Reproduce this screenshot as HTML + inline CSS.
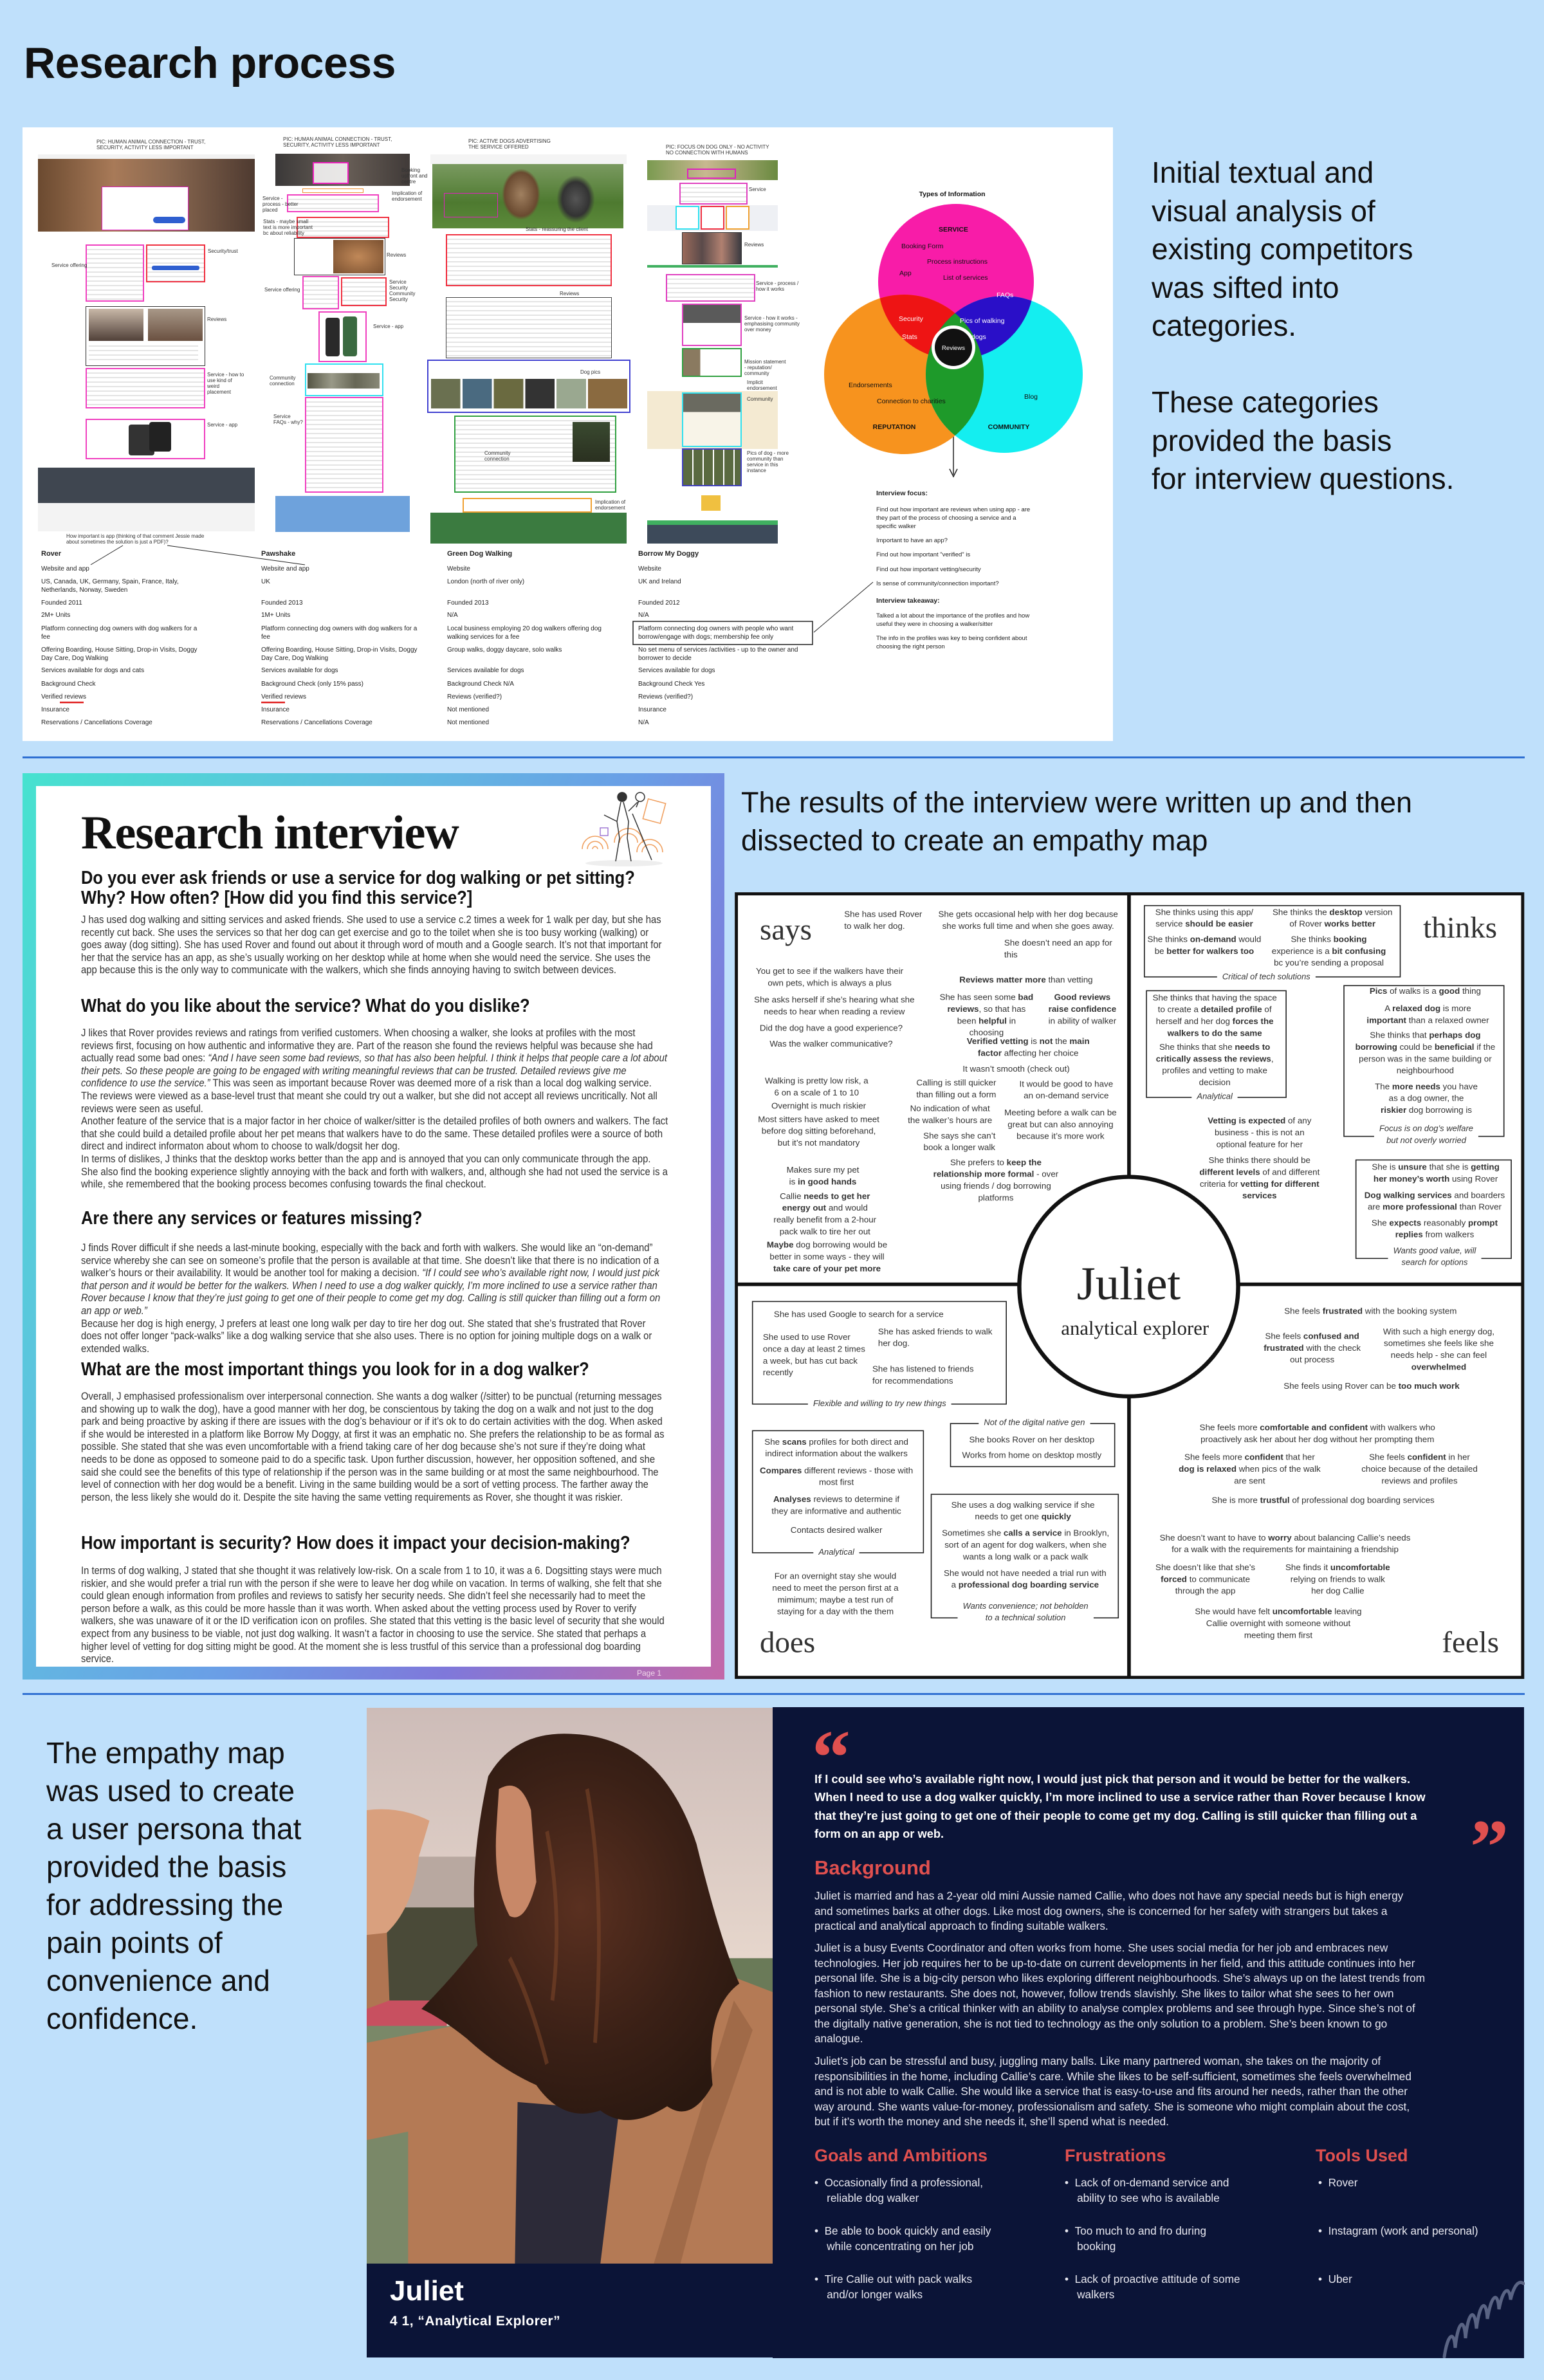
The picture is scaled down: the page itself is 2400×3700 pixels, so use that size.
<!DOCTYPE html>
<html><head><meta charset="utf-8">
<style>
*{margin:0;padding:0;box-sizing:border-box}
body{width:2400px;height:3700px;background:#bfe0fb;position:relative;overflow:hidden;font-family:"Liberation Sans",sans-serif;color:#111}
.a{position:absolute}
.sm{position:absolute;font-size:8px;line-height:9px;color:#333;white-space:nowrap}
.tb{position:absolute;font-size:10px;line-height:13px;color:#222;white-space:nowrap}
.tx{background:repeating-linear-gradient(#fff 0 5px,#e4e4e4 5px 7px)}
.big{position:absolute;font-size:46px;line-height:59.5px;color:#111;white-space:nowrap}
/* interview doc */
.doc h2{position:absolute;left:126px;width:1040px;font-family:"Liberation Sans",sans-serif;font-weight:bold;font-size:29px;line-height:31px;color:#111;transform:scaleX(0.88);transform-origin:0 0;white-space:nowrap}
.doc p{position:absolute;left:126px;width:1050px;font-family:"Liberation Sans",sans-serif;font-size:17px;line-height:19.6px;color:#333;overflow:hidden;transform:scaleX(0.87);transform-origin:0 0}
/* empathy */
.em{position:absolute;left:1130px;top:1380px;width:1568px;height:1568px;transform:scale(0.81,0.7972);transform-origin:0 0;font-family:"Liberation Sans",sans-serif;color:#333}
.em .t{position:absolute;white-space:nowrap;transform:translateX(-50%);text-align:center;font-size:16.5px;line-height:23px}
.em .l{position:absolute;white-space:nowrap;font-size:16.5px;line-height:23px}
.em .b{position:absolute;border:2.5px solid #222}
.em .c{position:absolute;white-space:nowrap;transform:translateX(-50%);text-align:center;font-size:16px;line-height:23px;font-style:italic;background:#fff;padding:0 10px}
.em .q{position:absolute;font-family:"Liberation Serif",serif;font-size:58px;line-height:60px;color:#333}
/* persona */
.pp{position:absolute;color:#fff;white-space:nowrap}
.pb{position:absolute;color:#e8e8f0;font-size:17.2px;line-height:23.5px;white-space:nowrap}
.ph{position:absolute;color:#e0504f;font-weight:bold;font-size:27px;white-space:nowrap}
</style></head><body>

<div class="a" style="left:37px;top:58px;font-size:68px;font-weight:bold;line-height:80px;letter-spacing:-0.5px">Research process</div>

<!-- ========== PANEL 1 ========== -->
<div class="a" style="left:35px;top:198px;width:1695px;height:954px;background:#fff"></div>

<!-- column 1 -->
<div class="sm" style="left:150px;top:216px">PIC: HUMAN ANIMAL CONNECTION - TRUST,<br>SECURITY, ACTIVITY LESS IMPORTANT</div>
<div class="a" style="left:59px;top:240px;width:337px;height:7px;background:#f2f2f2"></div>
<div class="a" style="left:59px;top:247px;width:337px;height:113px;background:linear-gradient(90deg,#6b4a30,#a87a58 35%,#8a6850 60%,#4e3a30)"></div>
<div class="a" style="left:158px;top:290px;width:135px;height:68px;background:#fff;border:1.5px solid #e020c0"></div>
<div class="a" style="left:238px;top:337px;width:50px;height:10px;background:#2f5fd0;border-radius:5px"></div>
<div class="a tx" style="left:133px;top:380px;width:91px;height:89px;border:2px solid #f040c0"></div>
<div class="a tx" style="left:227px;top:380px;width:92px;height:59px;border:2px solid #f03040"></div>
<div class="a" style="left:236px;top:413px;width:74px;height:7px;background:#2f5fd0;border-radius:3px"></div>
<div class="a" style="left:133px;top:476px;width:186px;height:93px;border:1.5px solid #333;background:#fff"></div>
<div class="a" style="left:138px;top:480px;width:85px;height:50px;background:linear-gradient(#c8b8a8,#504038)"></div>
<div class="a" style="left:230px;top:480px;width:85px;height:50px;background:linear-gradient(#a89888,#6a5040)"></div>
<div class="a tx" style="left:138px;top:532px;width:170px;height:33px"></div>
<div class="a tx" style="left:133px;top:572px;width:186px;height:63px;border:2px solid #f040c0"></div>
<div class="a" style="left:133px;top:651px;width:186px;height:63px;border:2px solid #f040c0;background:#fff"></div>
<div class="a" style="left:200px;top:660px;width:40px;height:48px;background:#333;border-radius:4px"></div>
<div class="a" style="left:232px;top:656px;width:34px;height:46px;background:#222;border-radius:4px"></div>
<div class="a" style="left:59px;top:727px;width:337px;height:55px;background:#3f4650"></div>
<div class="a" style="left:59px;top:782px;width:337px;height:44px;background:#f3f3f3"></div>
<div class="sm" style="left:80px;top:408px">Service offering</div>
<div class="sm" style="left:323px;top:386px">Security/trust</div>
<div class="sm" style="left:322px;top:492px">Reviews</div>
<div class="sm" style="left:322px;top:578px">Service - how to<br>use kind of<br>weird<br>placement</div>
<div class="sm" style="left:322px;top:656px">Service - app</div>
<div class="sm" style="left:103px;top:829px">How important is app (thinking of that comment Jessie made<br>about sometimes the solution is just a PDF)?</div>

<!-- column 2 -->
<div class="sm" style="left:440px;top:212px">PIC: HUMAN ANIMAL CONNECTION - TRUST,<br>SECURITY, ACTIVITY LESS IMPORTANT</div>
<div class="a" style="left:428px;top:239px;width:209px;height:50px;background:linear-gradient(90deg,#3a3838,#6a6058 50%,#403a38)"></div>
<div class="a" style="left:486px;top:252px;width:56px;height:34px;border:2px solid #f020c0;background:rgba(255,255,255,.85)"></div>
<div class="a tx" style="left:446px;top:302px;width:143px;height:28px;border:2px solid #f040c0"></div>
<div class="a" style="left:470px;top:293px;width:95px;height:7px;border:1.5px solid #f09030"></div>
<div class="a tx" style="left:461px;top:337px;width:144px;height:33px;border:2px solid #f03040"></div>
<div class="a" style="left:457px;top:370px;width:142px;height:58px;border:1.5px solid #333;background:#fff"></div>
<div class="a" style="left:518px;top:373px;width:78px;height:52px;background:radial-gradient(#c08858,#7a5030)"></div>
<div class="a tx" style="left:470px;top:429px;width:57px;height:52px;border:2px solid #f040c0"></div>
<div class="a tx" style="left:530px;top:431px;width:71px;height:45px;border:2px solid #f03040"></div>
<div class="a" style="left:495px;top:484px;width:75px;height:79px;border:2px solid #f040c0;background:#fff"></div>
<div class="a" style="left:506px;top:494px;width:22px;height:60px;background:#2a2a2a;border-radius:4px"></div>
<div class="a" style="left:533px;top:492px;width:22px;height:62px;background:#3a6a40;border-radius:4px"></div>
<div class="a" style="left:474px;top:565px;width:122px;height:51px;border:2px solid #30e0f0;background:#fff"></div>
<div class="a" style="left:478px;top:580px;width:112px;height:24px;background:linear-gradient(90deg,#554,#998,#665,#887)"></div>
<div class="a tx" style="left:474px;top:617px;width:122px;height:149px;border:2px solid #f040c0"></div>
<div class="a" style="left:428px;top:771px;width:209px;height:56px;background:#6ea2dc"></div>
<div class="sm" style="left:624px;top:260px">Booking<br>upfront and<br>centre</div>
<div class="sm" style="left:609px;top:296px">Implication of<br>endorsement</div>
<div class="sm" style="left:408px;top:304px">Service -<br>process - better<br>placed</div>
<div class="sm" style="left:409px;top:340px">Stats - maybe small<br>text is more important<br>bc about reliability</div>
<div class="sm" style="left:601px;top:392px">Reviews</div>
<div class="sm" style="left:411px;top:446px">Service offering</div>
<div class="sm" style="left:605px;top:434px">Service<br>Security<br>Community<br>Security</div>
<div class="sm" style="left:580px;top:503px">Service - app</div>
<div class="sm" style="left:419px;top:583px">Community<br>connection</div>
<div class="sm" style="left:425px;top:643px">Service<br>FAQs - why?</div>

<!-- column 3 -->
<div class="sm" style="left:728px;top:215px">PIC: ACTIVE DOGS ADVERTISING<br>THE SERVICE OFFERED</div>
<div class="a" style="left:669px;top:240px;width:305px;height:15px;background:#f4f4f4"></div>
<div class="a" style="left:672px;top:255px;width:297px;height:100px;background:linear-gradient(#7a9a60,#4e7a30 60%,#5c8a3a)"></div>
<div class="a" style="left:780px;top:262px;width:60px;height:80px;background:radial-gradient(#a08060,#6a4a30 60%,transparent 70%)"></div>
<div class="a" style="left:865px;top:272px;width:60px;height:75px;background:radial-gradient(#555,#333 50%,transparent 70%)"></div>
<div class="a" style="left:690px;top:300px;width:84px;height:38px;border:1.5px solid #e020c0"></div>
<div class="a tx" style="left:693px;top:364px;width:258px;height:81px;border:2px solid #f03040"></div>
<div class="a tx" style="left:693px;top:462px;width:258px;height:95px;border:1.5px solid #444"></div>
<div class="a" style="left:664px;top:559px;width:316px;height:83px;border:2px solid #4040d0;background:#fff"></div>
<div class="a" style="left:670px;top:589px;width:305px;height:46px;background:linear-gradient(90deg,#6a7050 0 15%,#fff 15% 16%,#4a6a80 16% 31%,#fff 31% 32%,#6a6a40 32% 47%,#fff 47% 48%,#333 48% 63%,#fff 63% 64%,#9aa890 64% 79%,#fff 79% 80%,#8a6a40 80%)"></div>
<div class="a tx" style="left:706px;top:646px;width:252px;height:120px;border:2px solid #30a040"></div>
<div class="a" style="left:890px;top:656px;width:58px;height:62px;background:linear-gradient(#3a4a30,#2a3020)"></div>
<div class="a" style="left:719px;top:774px;width:201px;height:23px;border:2px solid #f0a030;background:#fff"></div>
<div class="a" style="left:669px;top:797px;width:305px;height:48px;background:#3b7b40"></div>
<div class="sm" style="left:817px;top:352px">Stats - reassuring the client</div>
<div class="sm" style="left:870px;top:452px">Reviews</div>
<div class="sm" style="left:902px;top:574px">Dog pics</div>
<div class="sm" style="left:753px;top:700px">Community<br>connection</div>
<div class="sm" style="left:925px;top:776px">Implication of<br>endorsement</div>

<!-- column 4 -->
<div class="sm" style="left:1035px;top:224px">PIC: FOCUS ON DOG ONLY - NO ACTIVITY<br>NO CONNECTION WITH HUMANS</div>
<div class="a" style="left:1006px;top:249px;width:203px;height:31px;background:linear-gradient(90deg,#7a9a50,#c8b890 45%,#6a8a40)"></div>
<div class="a" style="left:1068px;top:262px;width:76px;height:16px;border:2px solid #e020c0"></div>
<div class="a tx" style="left:1056px;top:284px;width:106px;height:34px;border:2px solid #e040c0"></div>
<div class="a" style="left:1006px;top:319px;width:203px;height:40px;background:#eef0f4"></div>
<div class="a" style="left:1050px;top:320px;width:37px;height:37px;border:2px solid #30e0f0;background:#fff"></div>
<div class="a" style="left:1089px;top:320px;width:37px;height:37px;border:2px solid #f03040;background:#fff"></div>
<div class="a" style="left:1128px;top:320px;width:37px;height:37px;border:2px solid #f0a030;background:#fff"></div>
<div class="a" style="left:1060px;top:361px;width:93px;height:50px;border:1.5px solid #333;background:linear-gradient(90deg,#9a6a5a,#5a4a4a,#b08070,#3a3a40)"></div>
<div class="a" style="left:1006px;top:412px;width:203px;height:4px;background:#40b060"></div>
<div class="a tx" style="left:1035px;top:426px;width:139px;height:43px;border:2px solid #e040c0"></div>
<div class="a" style="left:1060px;top:472px;width:93px;height:66px;border:2px solid #e040c0;background:linear-gradient(#5a5a5a 0 45%,#fff 45%)"></div>
<div class="a" style="left:1060px;top:541px;width:93px;height:45px;border:2px solid #30a040;background:linear-gradient(90deg,#8a7a60 0 30%,#fff 30%)"></div>
<div class="a" style="left:1006px;top:608px;width:203px;height:90px;background:#f4ead2"></div>
<div class="a" style="left:1060px;top:610px;width:93px;height:85px;border:2px solid #30e0f0;background:linear-gradient(#6a6a60 0 35%,#f8f4e8 35%)"></div>
<div class="a" style="left:1060px;top:697px;width:93px;height:59px;border:2px solid #4040c0;background:repeating-linear-gradient(90deg,#5a6a40 0 14px,#fff 14px 16px)"></div>
<div class="a" style="left:1090px;top:770px;width:30px;height:24px;background:#f0c040"></div>
<div class="a" style="left:1006px;top:809px;width:203px;height:7px;background:#40b060"></div>
<div class="a" style="left:1006px;top:816px;width:203px;height:29px;background:#3d4a5a"></div>
<div class="sm" style="left:1164px;top:290px">Service</div>
<div class="sm" style="left:1157px;top:376px">Reviews</div>
<div class="sm" style="left:1175px;top:436px">Service - process /<br>how it works</div>
<div class="sm" style="left:1157px;top:490px">Service - how it works -<br>emphasising community<br>over money</div>
<div class="sm" style="left:1157px;top:558px">Mission statement<br>- reputation/<br>community</div>
<div class="sm" style="left:1161px;top:590px">Implicit<br>endorsement</div>
<div class="sm" style="left:1161px;top:616px">Community</div>
<div class="sm" style="left:1161px;top:700px">Pics of dog - more<br>community than<br>service in this<br>instance</div>

<!-- connectors top -->
<svg class="a" style="left:0;top:0" width="1800" height="1160">
<line x1="191" y1="848" x2="141" y2="878" stroke="#222" stroke-width="1"/>
<line x1="260" y1="848" x2="474" y2="878" stroke="#222" stroke-width="1"/>
<rect x="984" y="966" width="279" height="36" fill="none" stroke="#222" stroke-width="1.5"/>
<line x1="1265" y1="983" x2="1357" y2="905" stroke="#222" stroke-width="1"/>
<line x1="1482" y1="560" x2="1482" y2="738" stroke="#222" stroke-width="1.5"/>
<polyline points="1476,729 1482,741 1488,729" fill="none" stroke="#222" stroke-width="1.5"/>
<line x1="93" y1="1092" x2="130" y2="1092" stroke="#e02020" stroke-width="2.5"/>
<line x1="406" y1="1092" x2="443" y2="1092" stroke="#e02020" stroke-width="2.5"/>
</svg>

<!-- table -->
<div class="tb" style="left:64px;top:855px;font-weight:bold;font-size:11px">Rover</div>
<div class="tb" style="left:406px;top:855px;font-weight:bold;font-size:11px">Pawshake</div>
<div class="tb" style="left:695px;top:855px;font-weight:bold;font-size:11px">Green Dog Walking</div>
<div class="tb" style="left:992px;top:855px;font-weight:bold;font-size:11px">Borrow My Doggy</div>

<div class="tb" style="left:64px;top:878px">Website and app</div>
<div class="tb" style="left:64px;top:898px">US, Canada, UK, Germany, Spain, France, Italy,<br>Netherlands, Norway, Sweden</div>
<div class="tb" style="left:64px;top:931px">Founded 2011</div>
<div class="tb" style="left:64px;top:950px">2M+ Units</div>
<div class="tb" style="left:64px;top:971px">Platform connecting dog owners with dog walkers for a<br>fee</div>
<div class="tb" style="left:64px;top:1004px">Offering Boarding, House Sitting, Drop-in Visits, Doggy<br>Day Care, Dog Walking</div>
<div class="tb" style="left:64px;top:1036px">Services available for dogs and cats</div>
<div class="tb" style="left:64px;top:1057px">Background Check</div>
<div class="tb" style="left:64px;top:1077px">Verified reviews</div>
<div class="tb" style="left:64px;top:1097px">Insurance</div>
<div class="tb" style="left:64px;top:1117px">Reservations / Cancellations Coverage</div>

<div class="tb" style="left:406px;top:878px">Website and app</div>
<div class="tb" style="left:406px;top:898px">UK</div>
<div class="tb" style="left:406px;top:931px">Founded 2013</div>
<div class="tb" style="left:406px;top:950px">1M+ Units</div>
<div class="tb" style="left:406px;top:971px">Platform connecting dog owners with dog walkers for a<br>fee</div>
<div class="tb" style="left:406px;top:1004px">Offering Boarding, House Sitting, Drop-in Visits, Doggy<br>Day Care, Dog Walking</div>
<div class="tb" style="left:406px;top:1036px">Services available for dogs</div>
<div class="tb" style="left:406px;top:1057px">Background Check (only 15% pass)</div>
<div class="tb" style="left:406px;top:1077px">Verified reviews</div>
<div class="tb" style="left:406px;top:1097px">Insurance</div>
<div class="tb" style="left:406px;top:1117px">Reservations / Cancellations Coverage</div>

<div class="tb" style="left:695px;top:878px">Website</div>
<div class="tb" style="left:695px;top:898px">London (north of river only)</div>
<div class="tb" style="left:695px;top:931px">Founded 2013</div>
<div class="tb" style="left:695px;top:950px">N/A</div>
<div class="tb" style="left:695px;top:971px">Local business employing 20 dog walkers offering dog<br>walking services for a fee</div>
<div class="tb" style="left:695px;top:1004px">Group walks, doggy daycare,  solo walks</div>
<div class="tb" style="left:695px;top:1036px">Services available for dogs</div>
<div class="tb" style="left:695px;top:1057px">Background Check N/A</div>
<div class="tb" style="left:695px;top:1077px">Reviews (verified?)</div>
<div class="tb" style="left:695px;top:1097px">Not mentioned</div>
<div class="tb" style="left:695px;top:1117px">Not mentioned</div>

<div class="tb" style="left:992px;top:878px">Website</div>
<div class="tb" style="left:992px;top:898px">UK and Ireland</div>
<div class="tb" style="left:992px;top:931px">Founded 2012</div>
<div class="tb" style="left:992px;top:950px">N/A</div>
<div class="tb" style="left:992px;top:971px">Platform connecting dog owners with people who want<br>borrow/engage with dogs; membership fee only</div>
<div class="tb" style="left:992px;top:1004px">No set menu of services /activities - up to the owner and<br>borrower to decide</div>
<div class="tb" style="left:992px;top:1036px">Services available for dogs</div>
<div class="tb" style="left:992px;top:1057px">Background Check Yes</div>
<div class="tb" style="left:992px;top:1077px">Reviews (verified?)</div>
<div class="tb" style="left:992px;top:1097px">Insurance</div>
<div class="tb" style="left:992px;top:1117px">N/A</div>

<!-- venn -->
<svg class="a" style="left:1250px;top:280px" width="460" height="460" viewBox="1250 280 460 460">
<defs>
<clipPath id="cp"><circle cx="1486" cy="438" r="121"/></clipPath>
<clipPath id="co"><circle cx="1405" cy="582" r="124"/></clipPath>
</defs>
<circle cx="1486" cy="438" r="121" fill="#f81ca8"/>
<circle cx="1405" cy="582" r="124" fill="#f7931e"/>
<circle cx="1561" cy="582" r="122" fill="#14eef0"/>
<circle cx="1405" cy="582" r="124" fill="#ee1414" clip-path="url(#cp)"/>
<circle cx="1561" cy="582" r="122" fill="#2a0fc8" clip-path="url(#cp)"/>
<g clip-path="url(#co)"><circle cx="1561" cy="582" r="122" fill="#1e9a2a"/></g>
<circle cx="1482" cy="540" r="34" fill="#fff"/>
<circle cx="1482" cy="540" r="29" fill="#111"/>
<g font-family="Liberation Sans" font-size="10.5" fill="#111">
<text x="1482" y="360" text-anchor="middle" font-weight="bold">SERVICE</text>
<text x="1401" y="386">Booking Form</text>
<text x="1441" y="410">Process instructions</text>
<text x="1398" y="428">App</text>
<text x="1466" y="435">List of services</text>
<text x="1549" y="462" fill="#fff">FAQs</text>
<text x="1397" y="499" fill="#fff">Security</text>
<text x="1402" y="527" fill="#fff">Stats</text>
<text x="1492" y="502" fill="#fff">Pics of walking</text>
<text x="1510" y="527" fill="#fff">dogs</text>
<text x="1482" y="544" text-anchor="middle" fill="#fff" font-size="9.5">Reviews</text>
<text x="1319" y="602">Endorsements</text>
<text x="1363" y="627">Connection to charities</text>
<text x="1592" y="620">Blog</text>
<text x="1390" y="667" text-anchor="middle" font-weight="bold">REPUTATION</text>
<text x="1568" y="667" text-anchor="middle" font-weight="bold">COMMUNITY</text>
<text x="1480" y="305" text-anchor="middle" font-weight="bold">Types of Information</text>
</g>
</svg>

<div class="tb" style="left:1362px;top:761px;font-weight:bold;font-size:10.5px">Interview focus:</div>
<div class="tb" style="left:1362px;top:786px;font-size:9.5px">Find out how important are reviews when using app - are<br>they part of the process of choosing a service and a<br>specific walker</div>
<div class="tb" style="left:1362px;top:834px;font-size:9.5px">Important to have an app?</div>
<div class="tb" style="left:1362px;top:856px;font-size:9.5px">Find out how important "verified" is</div>
<div class="tb" style="left:1362px;top:879px;font-size:9.5px">Find out how important vetting/security</div>
<div class="tb" style="left:1362px;top:901px;font-size:9.5px">Is sense of community/connection important?</div>
<div class="tb" style="left:1362px;top:928px;font-weight:bold;font-size:10.5px">Interview takeaway:</div>
<div class="tb" style="left:1362px;top:951px;font-size:9.5px">Talked a lot about the importance of the profiles and how<br>useful they were in choosing a walker/sitter</div>
<div class="tb" style="left:1362px;top:986px;font-size:9.5px">The info in the profiles was key to being confident about<br>choosing the right person</div>

<div class="big" style="left:1790px;top:239px">Initial textual and<br>visual analysis of<br>existing competitors<br>was sifted into<br>categories.</div>
<div class="big" style="left:1790px;top:596px">These categories<br>provided the basis<br>for interview questions.</div>

<div class="a" style="left:35px;top:1176px;width:2335px;height:3px;background:#2f70d2"></div>
<div class="a" style="left:35px;top:2632px;width:2335px;height:3px;background:#2f70d2"></div>

<!-- ========== INTERVIEW DOC ========== -->
<div class="a" style="left:35px;top:1202px;width:1091px;height:1409px;background:linear-gradient(115deg,#46e2cf 0%,#5fc0e0 30%,#6a9ee6 55%,#7f78da 75%,#c368a8 100%)"></div>
<div class="a doc" style="left:0;top:0;width:1200px;height:2700px">
<div class="a" style="left:56px;top:1222px;width:1049px;height:1369px;background:#fff"></div>
<div class="a" style="left:126px;top:1250px;font-family:'Liberation Serif',serif;font-weight:bold;font-size:74px;line-height:90px;letter-spacing:-1px;color:#111;white-space:nowrap">Research interview</div>
<svg class="a" style="left:895px;top:1225px" width="150" height="125" viewBox="0 0 150 125">
<g fill="none" stroke="#f0a060" stroke-width="1.6">
<path d="M10 95a20 20 0 0 1 40 0M18 95a12 12 0 0 1 24 0M26 95a4 4 0 0 1 8 0"/>
<path d="M60 85a22 22 0 0 1 44 0M68 85a14 14 0 0 1 28 0"/>
<path d="M95 100a20 20 0 0 1 40 0M103 100a12 12 0 0 1 24 0"/>
<rect x="108" y="20" width="28" height="32" transform="rotate(15 122 36)"/>
</g>
<ellipse cx="75" cy="117" rx="60" ry="5" fill="#eee"/>
<g fill="none" stroke="#333" stroke-width="1.5">
<circle cx="72" cy="14" r="7" fill="#333"/>
<path d="M70 22l-6 30l4 26l-6 36M74 22l8 30l-2 26l6 36M64 52l-20 -10M82 36l14 -14"/>
<circle cx="100" cy="14" r="7"/><path d="M98 20l-4 10"/>
<path d="M88 40l30 72"/>
</g>
<rect x="38" y="62" width="12" height="12" fill="none" stroke="#9a70d0" stroke-width="1.4"/>
</svg>
<h2 style="top:1350px">Do you ever ask friends or use a service for dog walking or pet sitting?<br>Why? How often? [How did you find this service?]</h2>
<p style="top:1420px;height:120px">J has used dog walking and sitting services and asked friends. She used to use a service c.2 times a week for 1 walk per day, but she has recently cut back. She uses the services so that her dog can get exercise and go to the toilet when she is too busy working (walking) or goes away (dog sitting). She has used Rover and found out about it through word of mouth and a Google search. It’s not that important for her that the service has an app, as she’s usually working on her desktop while at home  when she would need the service. She uses the app because this is the only way to communicate with the walkers, which she finds annoying having to switch between devices.</p>
<h2 style="top:1549px">What do you like about the service? What do you dislike?</h2>
<p style="top:1596px;height:276px">J  likes that Rover provides reviews and ratings from verified customers. When choosing a walker, she looks at profiles with the most reviews first, focusing on how authentic and informative they are. Part of the reason she found the reviews helpful was because she had actually read some bad ones: <i>“And I have seen some bad reviews, so that has also been helpful. I think it helps that people care a lot about their pets. So these people are going to be engaged with writing meaningful reviews that can be trusted. Detailed reviews give me confidence to use the service.”</i> This was seen as important because Rover was deemed more of a risk than a local dog walking service. The reviews were viewed as a base-level trust that meant she could try out a walker, but she did not accept all reviews uncritically. Not all reviews were seen as useful.<br>Another feature of the service that is a major factor in her choice of walker/sitter is the detailed profiles of both owners and walkers. The fact that she could build a detailed profile about her pet means that walkers have to do the same. These detailed profiles were a source of both direct and indirect informaton about whom to choose to walk/dogsit her dog.<br>In terms of dislikes, J thinks that the desktop works better than the app and is annoyed that you can only communicate through the app. She also find the booking experience slightly annoying with the back and forth with walkers, and, although she had not used the service is a while, she remembered that the booking process becomes confusing towards the final checkout.</p>
<h2 style="top:1879px">Are there any services or features missing?</h2>
<p style="top:1930px;height:178px">J finds Rover difficult if she needs a last-minute booking, especially with the back and forth with walkers. She would like an “on-demand” service whereby she can see on someone’s profile that the person is available at that time. She doesn’t like that there is no indication of a walker’s hours or their availability. It would be another tool for making a decision. <i>“If I could see who’s available right now, I would just pick that person and it would be better for the walkers. When I need to use a dog walker quickly, I’m more inclined to use a service rather than Rover because I know that they’re just going to get one of their people to come get my dog. Calling is still quicker than filling out a form on an app or web.”</i><br>Because her dog is high energy, J prefers at least one long walk per day to tire her dog out. She stated that she’s frustrated that Rover does not offer longer “pack-walks” like a dog walking service that she also uses. There is no option for joining multiple dogs on a walk or extended walks.</p>
<h2 style="top:2114px">What are the most important things you look for in a dog walker?</h2>
<p style="top:2161px;height:217px">Overall, J emphasised professionalism over interpersonal connection. She wants a dog walker (/sitter) to be punctual (returning messages and showing up to walk the dog), have a good manner with her dog, be conscientous by taking the dog on a walk and not just to the dog park and being proactive by asking if there are issues with the dog’s behaviour or if it’s ok to do certain activities with the dog. When asked if she would be interested in a platform like Borrow My Doggy, at first it was an emphatic no. She prefers the relationship to be as formal as possible. She stated that she was even uncomfortable with a friend taking care of her dog because she’s not sure if they’re doing what needs to be done as opposed to someone paid to do a specific task. Upon further discussion, however, her opposition softened, and she said she could see the benefits of this type of relationship if the person was in the same building or at most the same neighbourhood. The level of connection with her dog would be a benefit. Living in the same building would be a sort of vetting process. The farther away the person, the less likely she would do it. Despite the site having the same vetting requirements as Rover, she thought it was riskier.</p>
<h2 style="top:2384px">How important is security? How does it impact your decision-making?</h2>
<p style="top:2432px;height:158px">In terms of dog walking, J stated that she thought it was relatively low-risk. On a scale from 1 to 10, it was a 6. Dogsitting stays were much riskier, and she would prefer a trial run with the person if she were to leave her dog while on vacation. In terms of walking, she felt that she could glean enough information from profiles and reviews to satisfy her security needs. She didn’t feel she necessarily had to meet the person before a walk, as this could be more hassle than it was worth. When asked about the vetting process used by Rover to verify walkers, she was unaware of it or the ID verification icon on profiles. She stated that this vetting is the basic level of security that she would expect from any business to be viable, not just dog walking. It wasn’t a factor in choosing to use the service. She stated that perhaps a higher level of vetting for dog sitting might be good. At the moment she is less trustful of this service than a professional dog boarding service.</p>
<div class="a" style="left:990px;top:2594px;font-size:12px;color:#f0d8ea">Page 1</div>
</div>

<div class="a" style="left:1152px;top:1218px;font-size:45px;line-height:59px;white-space:nowrap;color:#111">The results of the interview were written up and then<br>dissected to create an empathy map</div>

<!-- ========== EMPATHY MAP ========== -->
<div class="em">
<div class="a" style="left:15px;top:9px;width:1515px;height:1534px;background:#fff;border:6px solid #111"></div>
<div class="a" style="left:768px;top:10px;width:7px;height:1530px;background:#111"></div>
<div class="a" style="left:16px;top:770px;width:1512px;height:7px;background:#111"></div>
<div class="a" style="left:557px;top:560px;width:428px;height:436px;border-radius:50%;background:#fff;border:8px solid #111"></div>
<div class="t" style="left:771px;top:722px;font-family:'Liberation Serif',serif;font-size:92px;line-height:100px;color:#222">Juliet</div>
<div class="t" style="left:783px;top:838px;font-family:'Liberation Serif',serif;font-size:38px;line-height:44px;color:#222">analytical explorer</div>
<div class="q" style="left:63px;top:52px">says</div>
<div class="q" style="left:1336px;top:48px">thinks</div>
<div class="q" style="left:63px;top:1442px">does</div>
<div class="q" style="left:1372px;top:1442px">feels</div>

<!-- says -->
<div class="l" style="left:225px;top:41px">She has used Rover<br>to walk her dog.</div>
<div class="t" style="left:578px;top:41px">She gets occasional help with her dog because<br>she works full time and when she goes away.</div>
<div class="l" style="left:532px;top:97px">She doesn’t need an app for<br>this</div>
<div class="t" style="left:197px;top:152px">You get to see if the walkers have their<br>own pets, which is always a plus</div>
<div class="t" style="left:206px;top:208px">She asks herself if she’s hearing what she<br>needs to hear when reading a review</div>
<div class="t" style="left:200px;top:263px">Did the dog have a good experience?</div>
<div class="t" style="left:200px;top:294px">Was the walker communicative?</div>
<div class="t" style="left:574px;top:169px"><b>Reviews matter more</b> than vetting</div>
<div class="t" style="left:498px;top:203px">She has seen some <b>bad<br>reviews</b>, so that has<br>been <b>helpful</b> in<br>choosing</div>
<div class="t" style="left:682px;top:203px"><b>Good reviews<br>raise confidence</b><br>in ability of walker</div>
<div class="t" style="left:578px;top:289px"><b>Verified vetting</b> is <b>not</b> the <b>main<br>factor</b> affecting her choice</div>
<div class="t" style="left:555px;top:343px">It wasn’t smooth (check out)</div>
<div class="t" style="left:172px;top:366px">Walking is pretty low risk, a<br>6 on a scale of 1 to 10</div>
<div class="t" style="left:176px;top:415px">Overnight is much riskier</div>
<div class="t" style="left:176px;top:441px">Most sitters have asked to meet<br>before dog sitting beforehand,<br>but it’s not mandatory</div>
<div class="t" style="left:440px;top:370px">Calling is still quicker<br>than filling out a form</div>
<div class="t" style="left:651px;top:372px">It would be good to have<br>an on-demand service</div>
<div class="t" style="left:428px;top:420px">No indication of what<br>the walker’s hours are</div>
<div class="t" style="left:640px;top:428px">Meeting before a walk can be<br>great but can also annoying<br>because it’s more work</div>
<div class="t" style="left:446px;top:473px">She says she can’t<br>book a longer walk</div>
<div class="t" style="left:516px;top:525px">She prefers to <b>keep the<br>relationship more formal</b> - over<br>using friends / dog borrowing<br>platforms</div>
<div class="t" style="left:184px;top:540px">Makes sure my pet<br>is <b>in good hands</b></div>
<div class="t" style="left:188px;top:591px">Callie <b>needs to get her<br>energy out</b> and would<br>really benefit from a 2-hour<br>pack walk to tire her out</div>
<div class="t" style="left:192px;top:686px"><b>Maybe</b> dog borrowing would be<br>better in some ways - they will<br><b>take care of your pet more</b></div>

<!-- thinks -->
<div class="b" style="left:800px;top:34px;width:493px;height:141px"></div>
<div class="t" style="left:916px;top:37px">She thinks using this app/<br>service <b>should be easier</b></div>
<div class="t" style="left:1162px;top:37px">She thinks the <b>desktop</b> version<br>of Rover <b>works better</b></div>
<div class="t" style="left:916px;top:90px">She thinks <b>on-demand</b> would<br>be <b>better for walkers too</b></div>
<div class="t" style="left:1155px;top:90px">She thinks <b>booking</b><br>experience is a <b>bit confusing</b><br>bc you’re sending a proposal</div>
<div class="c" style="left:1035px;top:163px">Critical of tech solutions</div>

<div class="b" style="left:804px;top:200px;width:270px;height:210px"></div>
<div class="t" style="left:936px;top:204px">She thinks that having the space<br>to create a <b>detailed profile</b> of<br>herself and her dog <b>forces the<br>walkers to do the same</b></div>
<div class="t" style="left:936px;top:300px">She thinks that she <b>needs to<br>critically assess the reviews</b>,<br>profiles and vetting  to make<br>decision</div>
<div class="c" style="left:936px;top:396px">Analytical</div>

<div class="b" style="left:1183px;top:190px;width:309px;height:296px"></div>
<div class="t" style="left:1340px;top:191px"><b>Pics</b> of walks is a <b>good</b> thing</div>
<div class="t" style="left:1345px;top:225px">A <b>relaxed dog</b> is more<br><b>important</b> than a relaxed owner</div>
<div class="t" style="left:1340px;top:277px">She thinks that <b>perhaps dog<br>borrowing</b> could be <b>beneficial</b> if the<br>person was in the same building or<br>neighbourhood</div>
<div class="t" style="left:1342px;top:377px">The <b>more needs</b> you have<br>as a dog owner, the<br><b>riskier</b> dog borrowing is</div>
<div class="c" style="left:1342px;top:459px">Focus is on dog’s welfare<br>but not overly worried</div>
<div class="t" style="left:1022px;top:444px"><b>Vetting is expected</b> of any<br>business - this is not an<br>optional feature for her</div>
<div class="t" style="left:1022px;top:521px">She thinks there should be<br><b>different levels</b> of and different<br>criteria for <b>vetting for different<br>services</b></div>

<div class="b" style="left:1206px;top:530px;width:300px;height:194px"></div>
<div class="t" style="left:1360px;top:534px">She is <b>unsure</b> that she is <b>getting<br>her money’s worth</b> using Rover</div>
<div class="t" style="left:1358px;top:589px"><b>Dog walking services</b> and boarders<br>are <b>more professional</b> than Rover</div>
<div class="t" style="left:1358px;top:643px">She <b>expects</b> reasonably <b>prompt<br>replies</b> from walkers</div>
<div class="c" style="left:1358px;top:697px">Wants good value, will<br>search for options</div>

<!-- does -->
<div class="b" style="left:48px;top:806px;width:489px;height:202px"></div>
<div class="l" style="left:90px;top:821px">She has used Google to search for a service</div>
<div class="l" style="left:69px;top:866px">She used to use Rover<br>once a day at least 2 times<br>a week, but has cut back<br>recently</div>
<div class="l" style="left:290px;top:855px">She has asked friends to walk<br>her dog.</div>
<div class="l" style="left:279px;top:928px">She has listened to friends<br>for recommendations</div>
<div class="c" style="left:293px;top:995px">Flexible and willing to try new things</div>

<div class="b" style="left:428px;top:1044px;width:317px;height:86px"></div>
<div class="c" style="left:590px;top:1032px">Not of the digital native gen</div>
<div class="t" style="left:585px;top:1066px">She books Rover on her desktop</div>
<div class="t" style="left:585px;top:1096px">Works from home on desktop mostly</div>

<div class="b" style="left:48px;top:1058px;width:330px;height:240px"></div>
<div class="t" style="left:210px;top:1070px">She <b>scans</b> profiles for both direct and<br>indirect information about the walkers</div>
<div class="t" style="left:210px;top:1126px"><b>Compares</b> different reviews - those with<br>most first</div>
<div class="t" style="left:210px;top:1182px"><b>Analyses</b> reviews to determine if<br>they are informative and authentic</div>
<div class="t" style="left:210px;top:1242px">Contacts desired walker</div>
<div class="c" style="left:210px;top:1285px">Analytical</div>

<div class="b" style="left:391px;top:1182px;width:361px;height:243px"></div>
<div class="t" style="left:568px;top:1193px">She uses a dog walking service if she<br>needs to get one <b>quickly</b></div>
<div class="t" style="left:573px;top:1248px">Sometimes she <b>calls a service</b> in Brooklyn,<br>sort of an agent for dog walkers, when she<br>wants a long walk or a pack walk</div>
<div class="t" style="left:572px;top:1326px">She would not have needed a trial run with<br>a <b>professional dog boarding service</b></div>
<div class="c" style="left:573px;top:1390px">Wants convenience; not beholden<br>to a technical solution</div>
<div class="t" style="left:208px;top:1332px">For an overnight stay she would<br>need to meet the person first at a<br>mimimum; maybe a test run of<br>staying for a day with the them</div>

<!-- feels -->
<div class="t" style="left:1235px;top:815px">She feels <b>frustrated</b> with the booking system</div>
<div class="t" style="left:1123px;top:864px">She feels <b>confused and<br>frustrated</b> with the check<br>out process</div>
<div class="t" style="left:1366px;top:855px">With such a high energy dog,<br>sometimes she feels like she<br>needs help - she can feel<br><b>overwhelmed</b></div>
<div class="t" style="left:1237px;top:961px">She feels using Rover can be <b>too much work</b></div>
<div class="t" style="left:1133px;top:1042px">She feels more <b>comfortable and confident</b> with walkers who<br>proactively ask her about her dog without her prompting them</div>
<div class="t" style="left:1003px;top:1100px">She feels more <b>confident</b> that her<br><b>dog is relaxed</b> when pics of the walk<br>are sent</div>
<div class="t" style="left:1329px;top:1100px">She feels <b>confident</b> in her<br>choice because of the detailed<br>reviews and profiles</div>
<div class="t" style="left:1144px;top:1184px">She is more <b>trustful</b> of professional dog boarding services</div>
<div class="t" style="left:1071px;top:1257px">She doesn’t want to have to <b>worry</b> about balancing Callie’s needs<br>for a walk with the requirements for maintaining a friendship</div>
<div class="t" style="left:918px;top:1315px">She doesn’t like that she’s<br><b>forced</b> to communicate<br>through the app</div>
<div class="t" style="left:1172px;top:1315px">She finds it <b>uncomfortable</b><br>relying on friends to walk<br>her dog Callie</div>
<div class="t" style="left:1058px;top:1401px">She would have felt <b>uncomfortable</b> leaving<br>Callie overnight with someone without<br>meeting them first</div>
</div>

<!-- ========== PERSONA ========== -->
<div class="a" style="left:72px;top:2696px;font-size:46px;line-height:59px;white-space:nowrap;color:#111">The empathy map<br>was used to create<br>a user persona that<br>provided the basis<br>for addressing the<br>pain points of<br>convenience and<br>confidence.</div>

<svg class="a" style="left:570px;top:2655px" width="631" height="864" viewBox="25 8 1520 1314" preserveAspectRatio="none">
<defs>
<linearGradient id="sky" x1="0" y1="0" x2="0" y2="1"><stop offset="0" stop-color="#cdbcb8"/><stop offset=".45" stop-color="#e6d6cc"/><stop offset="1" stop-color="#d8ccc0"/></linearGradient>
<radialGradient id="hair" cx=".5" cy=".45" r=".6"><stop offset="0" stop-color="#5a3020"/><stop offset=".6" stop-color="#3a2016"/><stop offset="1" stop-color="#2a1810"/></radialGradient>
</defs>
<rect x="25" y="8" width="1520" height="1314" fill="url(#sky)"/>
<rect x="25" y="360" width="420" height="160" fill="#b8a8a0"/>
<rect x="25" y="480" width="420" height="220" fill="#4a4a38"/>
<rect x="1380" y="600" width="165" height="120" fill="#6a7a58"/>
<rect x="25" y="700" width="300" height="70" fill="#c85060"/>
<rect x="25" y="760" width="1520" height="562" fill="#7a8868"/>
<path d="M25 800 L350 760 L600 880 L900 980 L1380 640 L1545 680 L1545 1322 L180 1322 L180 1010 L25 1030Z" fill="#b47a55"/>
<path d="M25 540 L100 530 L110 700 L25 720Z" fill="#b07552"/>
<path d="M25 250 Q150 240 260 275 L220 360 Q200 480 100 540 L25 545Z" fill="#d9a07e"/>
<path d="M1400 700 L1470 770 L1300 1080 L1200 1322 L1100 1322Z" fill="#a06a48"/>
<path d="M590 940 L970 960 L900 1322 L580 1322Z" fill="#2c2a38"/>
<path d="M480 170 Q580 60 800 70 Q1130 80 1260 330 Q1350 560 1420 660 Q1290 720 1320 900 Q1240 990 1150 950 Q1000 1010 900 960 Q760 990 660 900 Q520 860 400 790 Q300 740 230 720 Q340 650 440 570 Q400 400 480 170Z" fill="url(#hair)"/>
<path d="M520 200 Q600 170 640 250 L660 420 Q620 520 560 500 Q500 430 510 300Z" fill="#c88868"/>
<path d="M700 300 Q760 500 720 700 M850 200 Q920 450 880 800 M560 600 Q640 700 700 850" stroke="#7a4428" stroke-width="14" fill="none" opacity=".6"/>
</svg>
<div class="a" style="left:570px;top:3519px;width:631px;height:146px;background:#0b1437"></div>
<div class="pp" style="left:606px;top:3536px;font-size:44px;font-weight:bold;line-height:52px">Juliet</div>
<div class="pp" style="left:606px;top:3596px;font-size:21px;font-weight:bold;line-height:26px;letter-spacing:0.5px">4 1, “Analytical Explorer”</div>

<div class="a" style="left:1201px;top:2654px;width:1168px;height:1012px;background:#0b1437"></div>
<div class="pp" style="left:1262px;top:2672px;font-family:'Liberation Serif',serif;font-weight:bold;font-size:120px;line-height:120px;color:#e0504f">“</div>
<div class="pp" style="left:2285px;top:2811px;font-family:'Liberation Serif',serif;font-weight:bold;font-size:120px;line-height:120px;color:#e0504f">”</div>
<div class="pp" style="left:1266px;top:2752px;font-size:18.3px;font-weight:bold;line-height:28.4px">If I could see who’s available right now, I would just pick that person and it would be better for the walkers.<br>When I need to use a dog walker quickly, I’m more inclined to use a service rather than Rover because I know<br>that they’re just going to get one of their people to come get my dog. Calling is still quicker than filling out a<br>form on an app or web.</div>
<div class="ph" style="left:1266px;top:2885px;font-size:31px;line-height:38px">Background</div>
<div class="pb" style="left:1266px;top:2936px">Juliet is married and has a 2-year old mini Aussie named Callie, who does not have any special needs but is high energy<br>and sometimes barks at other dogs. Like most dog owners, she is concerned for her safety with strangers but takes a<br>practical and analytical approach to finding suitable walkers.</div>
<div class="pb" style="left:1266px;top:3017px">Juliet is a busy Events Coordinator and often works from home. She uses social media for her job and embraces new<br>technologies. Her job requires her to be up-to-date on current developments in her field, and this attitude continues into her<br>personal life. She is a big-city person who likes exploring different neighbourhoods. She’s always up on the latest trends from<br>fashion to new restaurants. She does not, however, follow trends slavishly. She likes to tailor what she sees to her own<br>personal style. She’s a critical thinker with an ability to analyse complex problems and see through hype. Since she’s not of<br>the digitally native generation, she is not tied to technology as the only solution to a problem. She’s been known to go<br>analogue.</div>
<div class="pb" style="left:1266px;top:3193px">Juliet’s job can be stressful and busy, juggling many balls.  Like many partnered woman, she takes on the majority of<br>responsibilities in the home, including Callie’s care. While she likes to be self-sufficient, sometimes she feels overwhelmed<br>and is not able to walk Callie. She would like a service that is easy-to-use and fits around her needs, rather than the other<br>way around. She wants value-for-money, professionalism and safety. She is someone who might complain about the cost,<br>but if it’s worth the money and she needs it, she’ll spend what is needed.</div>
<div class="ph" style="left:1266px;top:3333px;line-height:36px">Goals and Ambitions</div>
<div class="ph" style="left:1655px;top:3333px;line-height:36px">Frustrations</div>
<div class="ph" style="left:2045px;top:3333px;line-height:36px">Tools Used</div>
<div class="pb" style="left:1266px;top:3382px">•&nbsp;&nbsp;Occasionally find a professional,<br>&nbsp;&nbsp;&nbsp;&nbsp;reliable dog walker</div>
<div class="pb" style="left:1266px;top:3457px">•&nbsp;&nbsp;Be able to book quickly and easily<br>&nbsp;&nbsp;&nbsp;&nbsp;while concentrating on her job</div>
<div class="pb" style="left:1266px;top:3532px">•&nbsp;&nbsp;Tire Callie out with pack walks<br>&nbsp;&nbsp;&nbsp;&nbsp;and/or longer walks</div>
<div class="pb" style="left:1655px;top:3382px">•&nbsp;&nbsp;Lack of on-demand service and<br>&nbsp;&nbsp;&nbsp;&nbsp;ability to see who is available</div>
<div class="pb" style="left:1655px;top:3457px">•&nbsp;&nbsp;Too much to and fro during<br>&nbsp;&nbsp;&nbsp;&nbsp;booking</div>
<div class="pb" style="left:1655px;top:3532px">•&nbsp;&nbsp;Lack of proactive attitude of some<br>&nbsp;&nbsp;&nbsp;&nbsp;walkers</div>
<div class="pb" style="left:2049px;top:3382px">•&nbsp;&nbsp;Rover</div>
<div class="pb" style="left:2049px;top:3457px">•&nbsp;&nbsp;Instagram (work and personal)</div>
<div class="pb" style="left:2049px;top:3532px">•&nbsp;&nbsp;Uber</div>
<svg class="a" style="left:2240px;top:3530px" width="130" height="136" viewBox="0 0 130 136">
<path d="M5 134 C10 100 20 90 22 120 C26 80 36 70 38 105 C42 65 52 55 55 90 C60 50 70 42 72 75 C78 38 88 30 90 60 C96 28 106 22 108 45 C114 20 122 15 128 20" fill="none" stroke="#5a6484" stroke-width="5" stroke-linecap="round"/>
</svg>

</body></html>
